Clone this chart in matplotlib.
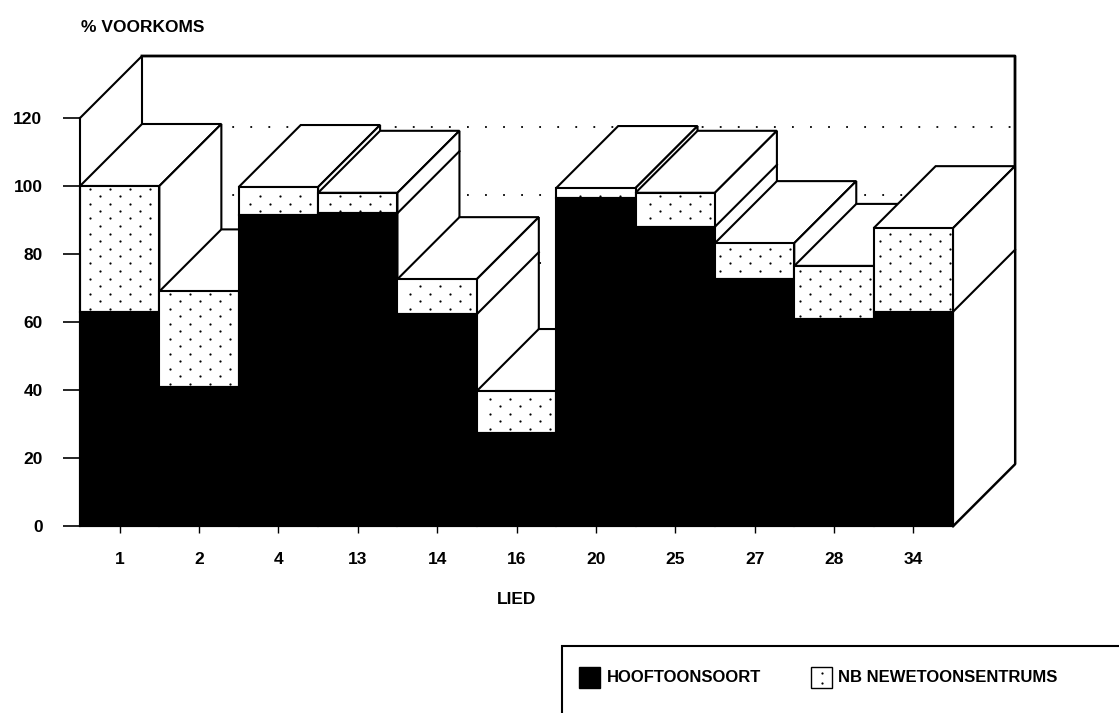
import numpy as np
import matplotlib
matplotlib.use("Agg")
import matplotlib.pyplot as plt
from matplotlib.patches import Polygon, Rectangle

liede = ["1", "2", "4", "13", "14", "16", "20", "25", "27", "28", "34"]
hooftoonsoort = [63, 41, 91.5, 92, 62.3, 27.4, 96.5, 88, 72.6, 61, 63]
newetoonsentrums = [37, 28, 8.2, 6, 10.3, 12.3, 2.9, 10, 10.6, 15.5, 24.6]
y_ticks = [0, 20, 40, 60, 80, 100, 120]
grid_values = [20, 40, 60, 80, 100]

W, H = 1119, 713
plt.rcParams['font.family'] = ['Liberation Sans', 'DejaVu Sans']
plt.rcParams['font.weight'] = 'bold'
fig = plt.figure(figsize=(W / 100, H / 100), dpi=100)
L, R, B, T = 80, 953, 526, 118
ax = fig.add_axes([L / W, (H - B) / H, (R - L) / W, (B - T) / H])
n = len(liede)
ax.set_xlim(0, n)
ax.set_ylim(0, 120)
ux = (R - L) / n
uy = (B - T) / 120
dx = 62 / ux
dy = 62 / uy
lw = 1.5

for s in ['top', 'right']:
    ax.spines[s].set_visible(False)
for s in ['left', 'bottom']:
    ax.spines[s].set_linewidth(lw)
ax.patch.set_visible(False)

ax.set_xticks(np.arange(n) + 0.5)
ax.set_xticklabels(liede, fontsize=12.5)
ax.set_yticks(y_ticks)
ax.tick_params(axis='x', length=5, width=1, pad=14)
ax.tick_params(axis='y', length=12, width=1.2, pad=15, labelsize=12.5)
ax.set_xlabel("LIED", fontsize=12.5, fontweight='bold', labelpad=18)

# back wall
ax.plot([0, dx, dx], [120, 120 + dy, 0 + dy], color='k', lw=lw, clip_on=False, zorder=1)
ax.plot([dx, n + dx, n + dx, n], [120 + dy, 120 + dy, dy, 0], color='k', lw=lw + 0.5, clip_on=False, zorder=1)
for g in grid_values:
    ax.plot([dx, n + dx], [g + 59 / uy] * 2, color='k', lw=1.3, ls=(0, (1, 9)), clip_on=False, zorder=1)

def poly(pts, fc, z):
    ax.add_patch(Polygon(pts, closed=True, fc=fc, ec='k', lw=lw, clip_on=False, zorder=z, joinstyle='miter'))

z = 2
rows = np.arange(0, 130, 7.5 / uy)
for i in range(n):
    h, t = hooftoonsoort[i], hooftoonsoort[i] + newetoonsentrums[i]
    x0, x1 = i, i + 1
    # top and side faces
    poly([(x0, t), (x0 + dx, t + dy), (x1 + dx, t + dy), (x1, t)], 'white', z)
    poly([(x1, t), (x1 + dx, t + dy), (x1 + dx, dy), (x1, 0)], 'white', z)
    ax.plot([x1, x1 + dx], [h, h + dy], color='k', lw=lw, clip_on=False, zorder=z + 0.1)
    # front faces
    poly([(x0, h), (x0, t), (x1, t), (x1, h)], 'white', z + 0.2)
    poly([(x0, 0), (x0, h), (x1, h), (x1, 0)], 'black', z + 0.2)
    # stipple
    xs, ys = [], []
    for k, r in enumerate(rows):
        if h + 0.5 < r < t - 0.5:
            start = (10 if k % 2 else 0) / ux
            for c in np.arange(start, n, 20 / ux):
                if x0 + 0.06 < c < x1 - 0.03:
                    xs.append(c)
                    ys.append(r)
    ax.plot(xs, ys, ls='none', marker='o', ms=1.6, mfc='k', mec='k', mew=0, clip_on=False, zorder=z + 0.3)
    z += 1

fig.text(81 / W, 1 - 27 / H, "% VOORKOMS", fontsize=12.5, fontweight='bold', va='center', ha='left')

# legend box, running off the page
lax = fig.add_axes([0, 0, 1, 1])
lax.set_xlim(0, W)
lax.set_ylim(H, 0)
lax.axis('off')
lax.add_patch(Rectangle((562, 646), W, H, fc='white', ec='k', lw=lw))
lax.add_patch(Rectangle((579, 667), 21, 21, fc='k', ec='k', lw=1))
lax.add_patch(Rectangle((811, 667), 21, 21, fc='white', ec='k', lw=1))
lax.plot([822, 822], [673, 683], ls='none', marker='o', ms=1.6, color='k', mew=0)
lax.text(607, 678, "HOOFTOONSOORT", fontsize=12, fontweight='bold', va='center', ha='left')
lax.text(838, 678, "NB NEWETOONSENTRUMS", fontsize=12, fontweight='bold', va='center', ha='left')

fig.savefig("out.png", dpi=100)
